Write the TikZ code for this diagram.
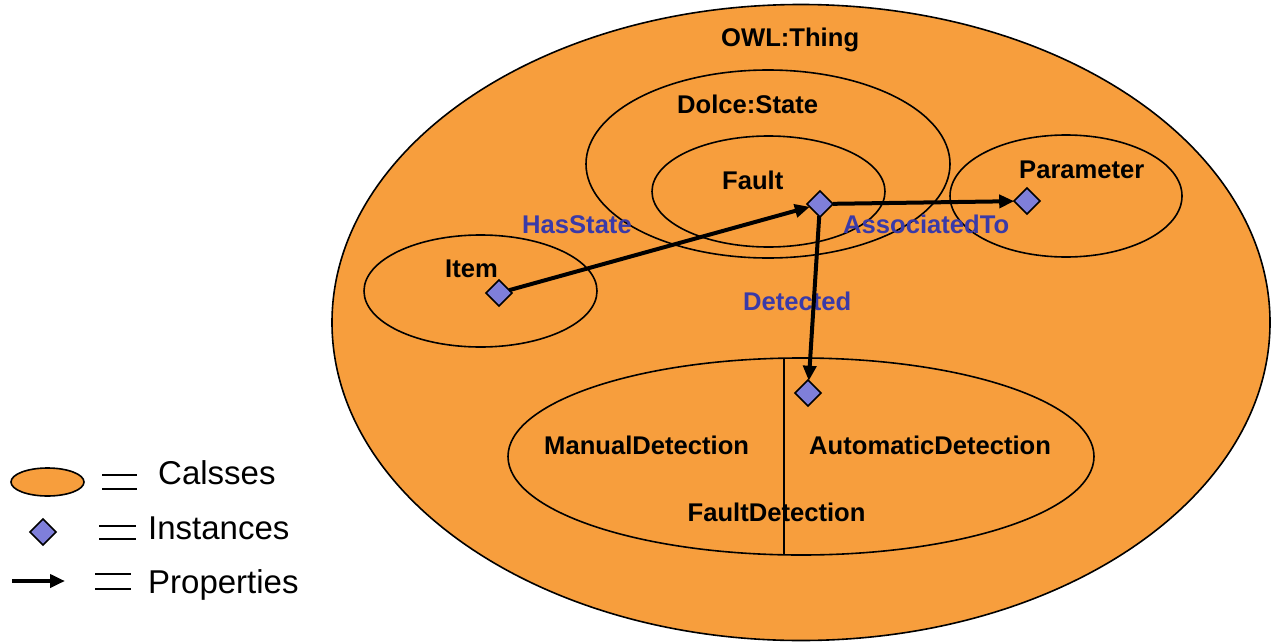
\documentclass[tikz,border=0pt]{standalone}
\usepackage{fontspec}
\setmainfont{Liberation Sans}
\usetikzlibrary{shapes.geometric,arrows.meta,calc}
\definecolor{clsfill}{RGB}{247,158,61}
\definecolor{instfill}{RGB}{127,127,218}
\definecolor{proptext}{RGB}{58,58,168}
\begin{document}
\begin{tikzpicture}[x=1pt,y=-1pt,
  cls/.style={ellipse, draw, line width=1.6pt, inner sep=0pt, outer sep=0pt},
  inst/.style={diamond, draw, line width=1.6pt, fill=instfill, minimum width=26pt, minimum height=26pt, inner sep=0pt, outer sep=0pt},
  prop/.style={line width=4pt, -{Triangle[length=15pt,width=13pt]}},
  lbl/.style={font=\fontsize{25.6}{30}\selectfont\bfseries, anchor=base west, inner sep=0pt},
  plbl/.style={lbl, text=proptext},
  leg/.style={font=\fontsize{33}{40}\selectfont, anchor=base west, inner sep=0pt},
  eq/.style={line width=1.8pt}]
\useasboundingbox (0,0) rectangle (1273,642);

% class ellipses
\node[cls, fill=clsfill, minimum width=938pt, minimum height=636pt] (owl) at (801,322.5) {};
\node[cls, minimum width=364pt, minimum height=188pt] (dolce) at (768,164) {};
\node[cls, minimum width=233pt, minimum height=111pt] (fault) at (768.5,191.5) {};
\node[cls, minimum width=232pt, minimum height=122pt] (param) at (1066,196) {};
\node[cls, minimum width=233pt, minimum height=112pt] (item) at (480.5,291) {};
\node[cls, minimum width=586pt, minimum height=197pt] (fd) at (801,456.5) {};
\draw[line width=1.6pt] ($(fd.north)+(-17,1)$) -- ($(fd.south)+(-17,-1)$);

% class names
\node[lbl] (tOwl) at (721,46) {OWL:Thing};
\node[lbl] (tDolce) at (677,113) {Dolce:State};
\node[lbl] (tFault) at (722,189) {Fault};
\node[lbl] (tParam) at (1019,178) {Parameter};
\node[lbl] (tItem) at (445,277) {Item};
\node[lbl] (tManual) at (544,454) {ManualDetection};
\node[lbl] (tAuto) at (809,454) {AutomaticDetection};
\node[lbl] (tFD) at (687.5,521) {FaultDetection};

% property names
\node[plbl] (tHas) at (522,233) {HasState};
\node[plbl] (tAssoc) at (843,233) {AssociatedTo};
\node[plbl] (tDet) at (743,310) {Detected};

% instances
\node[inst] (iItem) at (499,293) {};
\node[inst] (iFault) at (820,204) {};
\node[inst] (iParam) at (1027,201) {};
\node[inst] (iDet) at (808,393) {};

% properties
\draw[prop] (iItem) -- (iFault);
\draw[prop] (iFault) -- (iParam);
\draw[prop] (iFault) -- (iDet);

% legend
\node[cls, fill=clsfill, minimum width=73pt, minimum height=28pt] (legC) at (47.5,482) {};
\node[inst] (legI) at (43,532) {};
\coordinate (legA1) at (12,581);
\coordinate (legA2) at (65,581);
\draw[prop] (legA1) -- (legA2);

\draw[eq] (102,475) -- (137,475) (102,489) -- (137,489);
\draw[eq] (99,526) -- (136,526) (99,539) -- (136,539);
\draw[eq] (95,574) -- (131,574) (95,589) -- (131,589);

\node[leg] (lC) at (158,484) {Calsses};
\node[leg] (lI) at (148,539) {Instances};
\node[leg] (lP) at (148,593) {Properties};
\end{tikzpicture}
\end{document}
